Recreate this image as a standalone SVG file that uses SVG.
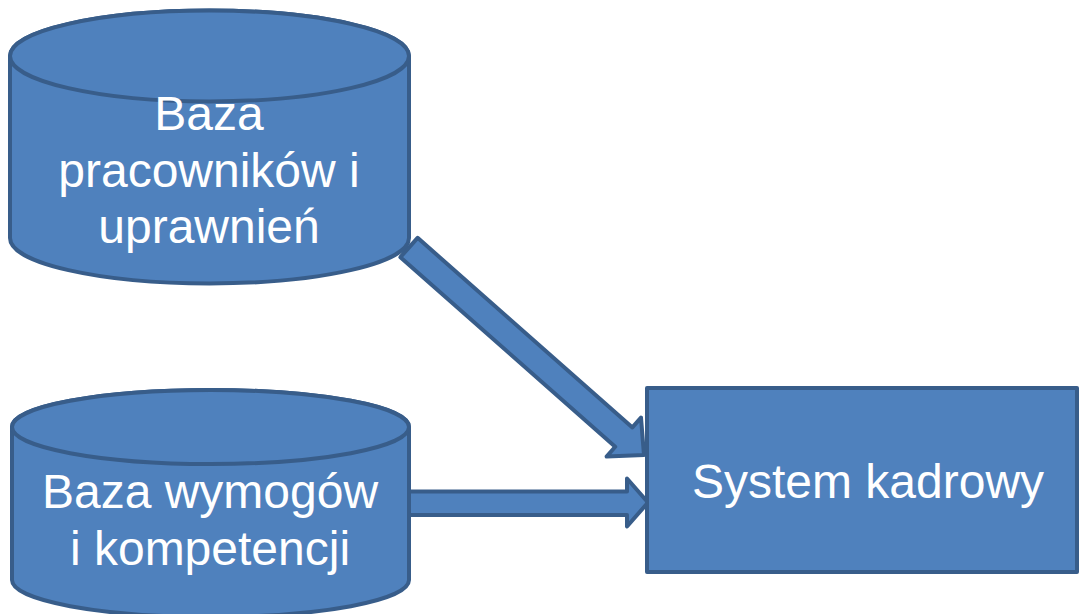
<svg xmlns="http://www.w3.org/2000/svg" width="1079" height="614" viewBox="0 0 1079 614">
<style>
.shape{fill:#4F81BD;stroke:#385D8A;stroke-width:4;stroke-linejoin:round}
.lbl{font-family:"Liberation Sans",Arial,sans-serif;font-size:48px;fill:#FFFFFF;text-anchor:middle}
</style>
<rect width="1079" height="614" fill="#FFFFFF"/>
<g id="connectors">
<polygon class="shape" points="417.6,237.8 632.4,427.4 641,417.6 644,455 606.6,456.6 615.2,446.8 400.4,257.2"/>
<polygon class="shape" points="408,491.5 627,491.5 627,478.5 648,502.5 627,526.5 627,515 408,515"/>
</g>
<g id="node-pracownicy">
<path class="shape" d="M10,56 L10,238 A199.5,45.5 0 0 0 409,238 L409,56 A199.5,45.5 0 0 0 10,56 Z"/>
<ellipse class="shape" cx="209.5" cy="56" rx="199.5" ry="45.5"/>
<text class="lbl" x="209" y="130">Baza</text>
<text class="lbl" x="209" y="187">pracowników i</text>
<text class="lbl" x="209" y="243">uprawnień</text>
</g>
<g id="node-wymogi">
<path class="shape" d="M12,427 L12,580 A198.5,37 0 0 0 409,580 L409,427 A198.5,37 0 0 0 12,427 Z"/>
<ellipse class="shape" cx="210.5" cy="427" rx="198.5" ry="37"/>
<text class="lbl" x="210" y="508">Baza wymogów</text>
<text class="lbl" x="210" y="565">i kompetencji</text>
</g>
<g id="node-system">
<rect class="shape" x="647" y="388" width="430" height="184"/>
<text class="lbl" x="868" y="498">System kadrowy</text>
</g>
</svg>
